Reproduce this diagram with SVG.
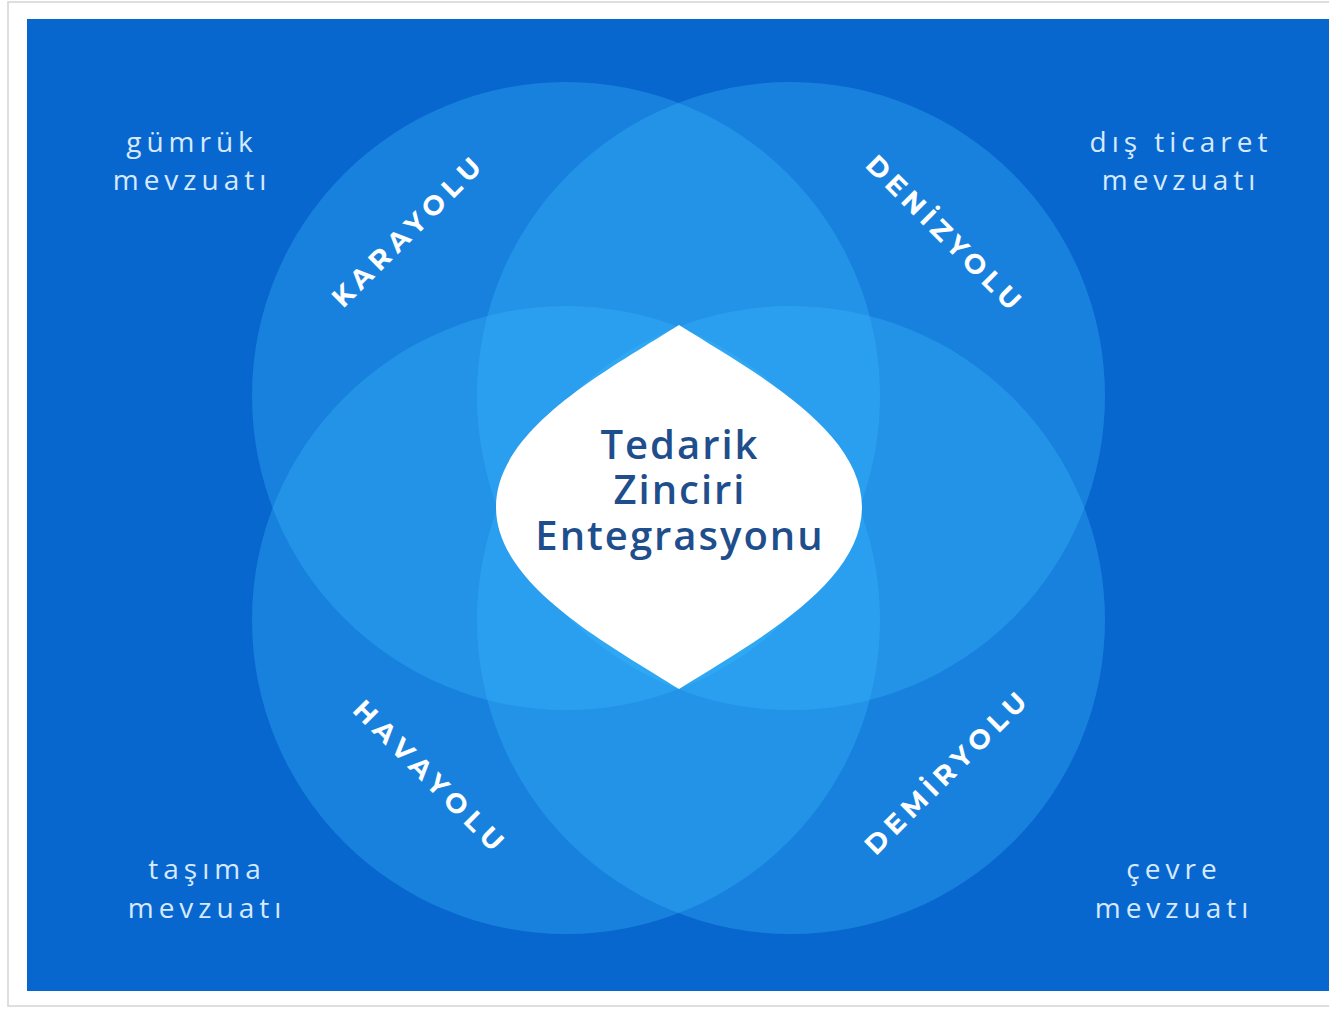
<svg xmlns="http://www.w3.org/2000/svg" width="1329" height="1009" viewBox="0 0 1329 1009">
  <defs>
    <style>
      .circle { fill: #3cbcff; fill-opacity: 0.32; }
      .mode { font-family: "Montserrat", "Open Sans", "Liberation Sans", sans-serif; font-weight: 700; font-size: 27px; fill: #ffffff; text-anchor: middle; }
      .law { font-family: "Open Sans", "Liberation Sans", sans-serif; font-weight: 400; font-size: 28px; fill: #d6eaff; text-anchor: middle; letter-spacing: 5px; }
      .center { font-family: "Open Sans", "Liberation Sans", sans-serif; font-weight: 600; font-size: 40px; fill: #1f4e8c; text-anchor: middle; letter-spacing: 2px; }
    </style>
  </defs>
  <rect x="0" y="0" width="1329" height="1009" fill="#ffffff"/>
  <rect x="8" y="2" width="1330" height="1004" fill="none" stroke="#d4d4d4" stroke-width="1.5"/>
  <rect x="27" y="19" width="1302" height="972" fill="#0866cf"/>

  <g id="circles">
    <g id="karayolu-circle"><circle class="circle" cx="566" cy="396" r="314"/></g>
    <g id="denizyolu-circle"><circle class="circle" cx="791" cy="396" r="314"/></g>
    <g id="havayolu-circle"><circle class="circle" cx="566" cy="620" r="314"/></g>
    <g id="demiryolu-circle"><circle class="circle" cx="791" cy="620" r="314"/></g>
  </g>

  <g id="center-node">
    <path d="M 679 325 C 604 372 496 430 496 507 C 496 584 604 642 679 689 C 754 642 862 584 862 507 C 862 430 754 372 679 325 Z" fill="#ffffff"/>
    <text class="center" x="680" y="459">Tedarik</text>
    <text class="center" x="680" y="504">Zinciri</text>
    <text class="center" x="680" y="550">Entegrasyonu</text>
  </g>

  <g id="karayolu-label">
    <text class="mode" transform="translate(406,232) rotate(-45)" x="0" y="10" textLength="198" lengthAdjust="spacing">KARAYOLU</text>
  </g>
  <g id="denizyolu-label">
    <text class="mode" transform="translate(944,232) rotate(45)" x="0" y="10" textLength="206" lengthAdjust="spacing">DENİZYOLU</text>
  </g>
  <g id="havayolu-label">
    <text class="mode" transform="translate(429,775) rotate(45)" x="0" y="10" textLength="200" lengthAdjust="spacing">HAVAYOLU</text>
  </g>
  <g id="demiryolu-label">
    <text class="mode" transform="translate(945,773) rotate(-45)" x="0" y="10" textLength="216" lengthAdjust="spacing">DEMİRYOLU</text>
  </g>

  <g id="gumruk">
    <text class="law" x="192" y="152">gümrük</text>
    <text class="law" x="192" y="190">mevzuatı</text>
  </g>
  <g id="dis-ticaret">
    <text class="law" x="1181" y="152">dış ticaret</text>
    <text class="law" x="1181" y="190">mevzuatı</text>
  </g>
  <g id="tasima">
    <text class="law" x="207" y="879">taşıma</text>
    <text class="law" x="207" y="918">mevzuatı</text>
  </g>
  <g id="cevre">
    <text class="law" x="1174" y="879">çevre</text>
    <text class="law" x="1174" y="918">mevzuatı</text>
  </g>
  <g id="connectors"></g>
</svg>
